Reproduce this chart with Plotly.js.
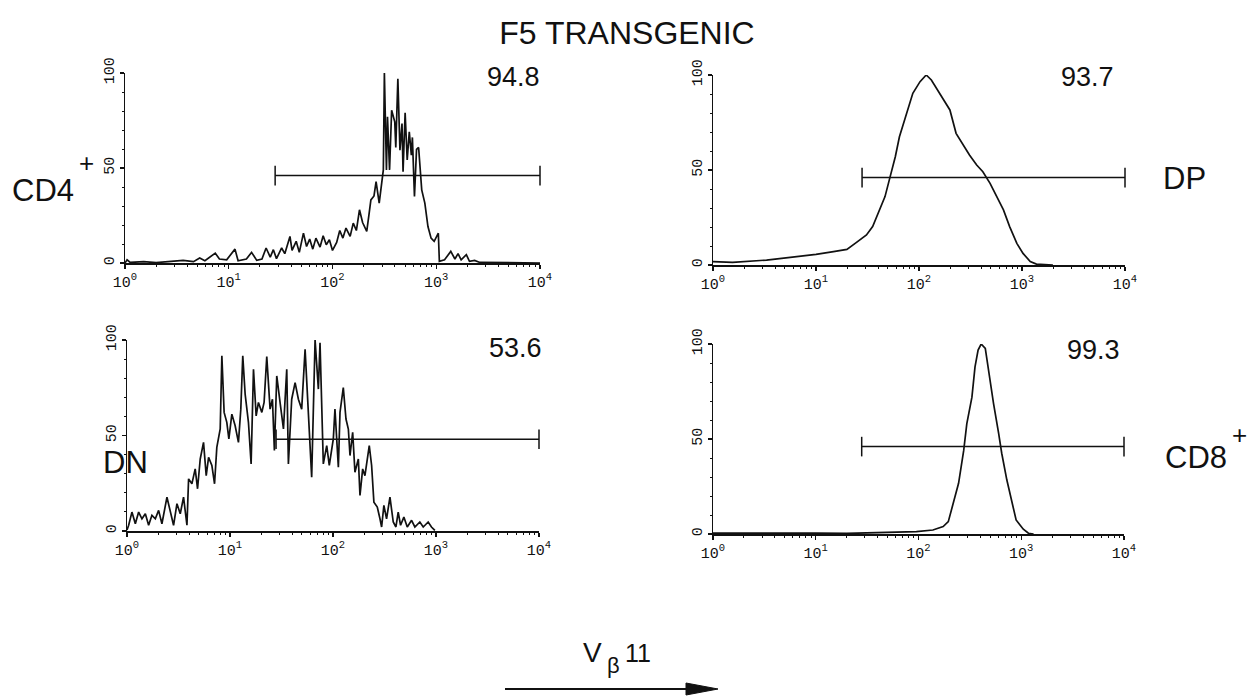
<!DOCTYPE html>
<html>
<head>
<meta charset="utf-8">
<script src="https://cdn.plot.ly/plotly-3.0.1.min.js"></script>
<style>html,body{margin:0;padding:0;background:#fff;}#chart{width:1255px;height:696px;}</style>
</head>
<body>
<div id="chart"></div>
<script>
// ---- data (x as log10 of channel, y as relative count) ----
const cd4Log = [0.00,0.02,0.05,0.18,0.30,0.45,0.56,0.66,0.72,0.77,0.87,0.91,0.98,1.06,1.09,1.17,1.22,1.27,1.32,1.36,1.40,1.43,1.46,1.51,1.54,1.59,1.61,1.65,1.68,1.72,1.75,1.78,1.81,1.84,1.88,1.91,1.94,1.97,2.00,2.04,2.07,2.10,2.13,2.17,2.20,2.23,2.26,2.29,2.33,2.35,2.37,2.40,2.42,2.45,2.47,2.49,2.50,2.52,2.53,2.55,2.57,2.60,2.61,2.63,2.65,2.67,2.68,2.70,2.72,2.74,2.76,2.77,2.79,2.81,2.83,2.85,2.86,2.89,2.92,2.95,2.98,3.02,3.03,3.08,3.14,3.18,3.21,3.24,3.29,3.32,3.37,3.42,4.00];
const cd4Count = [0,1.7,0.3,0.7,0.2,1.0,1.4,0.7,2.6,1.2,5.2,2.1,1.7,7.3,1.2,2.1,5.6,1.4,2.1,7.9,3.1,7.0,2.3,7.9,4.9,14.0,6.6,11.4,5.6,15.7,8.7,12.6,7.3,13.1,8.4,14.3,9.6,12.2,6.6,10.8,17.1,13.1,18.4,14.0,21.0,17.1,28.0,21.3,16.6,24.8,33.2,35.3,42.8,31.5,40.6,49.0,100,49.0,76.9,49.0,80.4,74.3,60.8,97.0,59.4,73.4,48.1,79.0,54.2,69.1,56.8,66.1,35.0,59.8,60.8,47.2,38.5,31.5,19.2,13.1,11.4,15.7,0.9,1.7,6.1,2.1,4.9,1.7,4.4,0.9,1.4,0.3,0];

const dpLog = [0,0.19,0.52,0.68,0.84,1.00,1.17,1.30,1.39,1.49,1.55,1.62,1.67,1.72,1.77,1.81,1.88,1.94,2.01,2.07,2.12,2.17,2.23,2.30,2.36,2.43,2.49,2.56,2.62,2.69,2.75,2.82,2.88,2.95,3.01,3.08,3.14,3.27,3.30];
const dpCount = [1.8,1.4,2.6,3.5,4.4,5.6,7.0,8.2,11.8,15.8,20.2,29.8,36.0,46.5,57.0,67.5,79.8,90.4,96.5,100,97.4,93.0,87.7,81.6,69.3,63.2,57.9,52.6,49.1,43.0,36.8,29.0,20.2,11.4,6.1,1.8,0.5,0.2,0];

const dnLog = [0,0.016,0.048,0.081,0.113,0.145,0.178,0.210,0.242,0.275,0.307,0.339,0.388,0.420,0.452,0.485,0.517,0.549,0.582,0.598,0.630,0.662,0.685,0.711,0.743,0.769,0.792,0.824,0.850,0.872,0.905,0.921,0.943,0.969,0.989,1.018,1.050,1.082,1.105,1.124,1.147,1.179,1.205,1.228,1.254,1.276,1.309,1.331,1.357,1.389,1.412,1.431,1.454,1.486,1.519,1.551,1.567,1.599,1.632,1.664,1.696,1.729,1.761,1.793,1.826,1.858,1.874,1.906,1.939,1.964,2.003,2.019,2.052,2.068,2.100,2.126,2.149,2.165,2.191,2.213,2.246,2.262,2.288,2.310,2.352,2.375,2.397,2.430,2.456,2.472,2.494,2.520,2.553,2.585,2.611,2.633,2.656,2.688,2.721,2.763,2.795,2.843,2.876,2.924,2.956,2.989];
const dnCount = [0.5,3.0,9.9,3.8,9.9,6.4,9.0,3.0,8.2,6.4,10.8,3.8,17.7,9.9,3.0,14.3,9.0,17.7,3.0,27.3,24.7,32.5,22.1,37.7,46.4,29.0,38.6,34.3,24.7,43.8,53.4,91.7,62.1,56.9,48.2,61.2,55.1,46.4,63.8,91.7,71.7,56.9,35.1,84.7,60.3,67.3,62.1,67.3,91.3,63.8,69.0,42.1,81.2,67.3,53.4,84.7,35.1,69.0,77.7,69.0,63.8,95.1,60.3,28.2,100,74.3,98.6,35.1,44.7,34.3,48.2,63.8,33.4,62.1,75.1,58.6,53.4,39.5,51.7,30.8,37.7,18.6,32.5,29.0,44.7,34.3,15.1,12.5,6.4,2.1,13.4,6.4,17.7,4.7,2.1,9.9,3.0,7.3,2.1,5.6,2.1,4.7,2.1,4.7,2.1,0.3];

const cd8Log = [0,0.3,0.6,1.0,1.3,1.6,1.88,1.98,2.14,2.24,2.29,2.34,2.39,2.44,2.47,2.52,2.55,2.58,2.61,2.65,2.68,2.73,2.78,2.81,2.86,2.91,2.95,3.02,3.07,3.12];
const cd8Count = [0.5,0.6,0.4,0.5,0.3,0.6,0.8,1.2,2.1,3.9,6.5,16.0,26.7,44.0,58.0,72.0,88.0,96.8,100,97.7,86.0,68.8,53.0,42.5,28.4,16.1,7.4,2.5,0.4,0];

const percentLabels = ['94.8', '93.7', '53.6', '99.3'];
const gateStart = 28;
const gateEnd = 10000;
const gateLevels = [46, 46, 48, 46];
const decadeTicks = [1, 10, 100, 1000, 10000];
const decadeLabels = ['10<sup>0</sup>', '10<sup>1</sup>', '10<sup>2</sup>', '10<sup>3</sup>', '10<sup>4</sup>'];
const countTicks = [0, 50, 100];
const countLabels = ['0', '50', '100'];

// ---- layout helpers ----
const W = 1255, H = 696;
const px = x => x / W;
const py = y => 1 - y / H;
const toChannel = arr => arr.map(v => Math.pow(10, v));

const minorVals = [];
for (let d = 1; d < 10000; d *= 10) for (let m = 2; m <= 9; m++) minorVals.push(d * m);

const panels = [
  {log: cd4Log, cnt: cd4Count, xd: [125, 540], yd: [73, 263]},
  {log: dpLog,  cnt: dpCount,  xd: [713, 1125], yd: [75, 265]},
  {log: dnLog,  cnt: dnCount,  xd: [127, 539], yd: [340, 531]},
  {log: cd8Log, cnt: cd8Count, xd: [713, 1124], yd: [344, 534]}
];

const traces = [];
const layout = {
  width: W, height: H,
  margin: {l: 0, r: 0, t: 0, b: 0},
  paper_bgcolor: '#fff', plot_bgcolor: '#fff',
  showlegend: false,
  title: {text: 'F5 TRANSGENIC', x: px(627), xanchor: 'center', y: py(33), yanchor: 'middle',
          font: {family: 'Liberation Sans, Arial, sans-serif', size: 32, color: '#111'}},
  annotations: [],
  shapes: []
};

const tickFont = {family: 'Liberation Mono, DejaVu Sans Mono, monospace', size: 15, color: '#111'};

panels.forEach((p, i) => {
  const k = i === 0 ? '' : String(i + 1);
  traces.push({
    x: toChannel(p.log), y: p.cnt, xaxis: 'x' + k, yaxis: 'y' + k,
    type: 'scatter', mode: 'lines', cliponaxis: false,
    line: {color: '#111', width: 1.7}, hoverinfo: 'skip'
  });
  traces.push({
    x: [gateStart, gateEnd], y: [gateLevels[i], gateLevels[i]], xaxis: 'x' + k, yaxis: 'y' + k,
    type: 'scatter', mode: 'lines+markers', cliponaxis: false,
    line: {color: '#111', width: 1.5},
    marker: {symbol: 'line-ns-open', size: 14, color: '#111', line: {color: '#111', width: 1.5}},
    hoverinfo: 'skip'
  });
  layout['xaxis' + k] = {
    type: 'log', range: [0, 4], domain: [px(p.xd[0]), px(p.xd[1])], anchor: 'y' + k,
    showline: true, linecolor: '#111', linewidth: 1.5, mirror: false,
    ticks: 'outside', ticklen: 4, tickwidth: 1.2, tickcolor: '#111',
    tickmode: 'array', tickvals: decadeTicks, ticktext: decadeLabels, tickfont: tickFont,
    showgrid: false, zeroline: false, fixedrange: true,
    minor: {tickmode: 'array', tickvals: minorVals, ticks: 'outside', ticklen: 2.5, tickwidth: 1, tickcolor: '#111', showgrid: false}
  };
  layout['yaxis' + k] = {
    range: [0, 100], domain: [py(p.yd[1]), py(p.yd[0])], anchor: 'x' + k,
    showline: true, linecolor: '#111', linewidth: 1.5,
    ticks: 'outside', ticklen: 4, tickwidth: 1.2, tickcolor: '#111',
    tickmode: 'array', tickvals: countTicks, ticktext: countLabels, tickangle: -90, tickfont: tickFont,
    showgrid: false, zeroline: false, fixedrange: true,
    minor: {dtick: 10, ticks: 'outside', ticklen: 2, tickwidth: 1, tickcolor: '#111', showgrid: false}
  };
});

const labFont = (s) => ({family: 'Liberation Sans, Arial, sans-serif', size: s, color: '#111'});
const ann = (text, x, y, xa, size) => ({text, x: px(x), y: py(y), xref: 'paper', yref: 'paper',
  xanchor: xa, yanchor: 'middle', showarrow: false, font: labFont(size)});

// percentages
layout.annotations.push(ann(percentLabels[0], 542, 77, 'right', 27));
layout.annotations.push(ann(percentLabels[1], 1116, 77, 'right', 27));
layout.annotations.push(ann(percentLabels[2], 544, 348, 'right', 27));
layout.annotations.push(ann(percentLabels[3], 1122, 350, 'right', 27));
// row labels
layout.annotations.push(ann('CD4', 10, 191, 'left', 31));
layout.annotations.push(ann('+', 86, 163, 'center', 26));
layout.annotations.push(ann('DP', 1161, 178, 'left', 31));
layout.annotations.push(ann('DN', 101, 462, 'left', 31));
layout.annotations.push(ann('CD8', 1163, 457, 'left', 31));
layout.annotations.push(ann('+', 1239, 435, 'center', 26));
// axis label V beta 11
layout.annotations.push(ann('V', 592, 652, 'center', 28));
layout.annotations.push(ann('β', 613, 665, 'center', 22));
layout.annotations.push(ann('11', 638, 653, 'center', 25));

// arrow
layout.shapes.push({type: 'line', xref: 'paper', yref: 'paper', x0: px(505), y0: py(689), x1: px(692), y1: py(689),
  line: {color: '#111', width: 2}});
layout.shapes.push({type: 'path', xref: 'paper', yref: 'paper',
  path: `M ${px(686)} ${py(683)} L ${px(718)} ${py(689)} L ${px(686)} ${py(695)} Z`,
  fillcolor: '#111', line: {color: '#111', width: 1}});

Plotly.newPlot('chart', traces, layout, {staticPlot: true, displayModeBar: false});
</script>
</body>
</html>
